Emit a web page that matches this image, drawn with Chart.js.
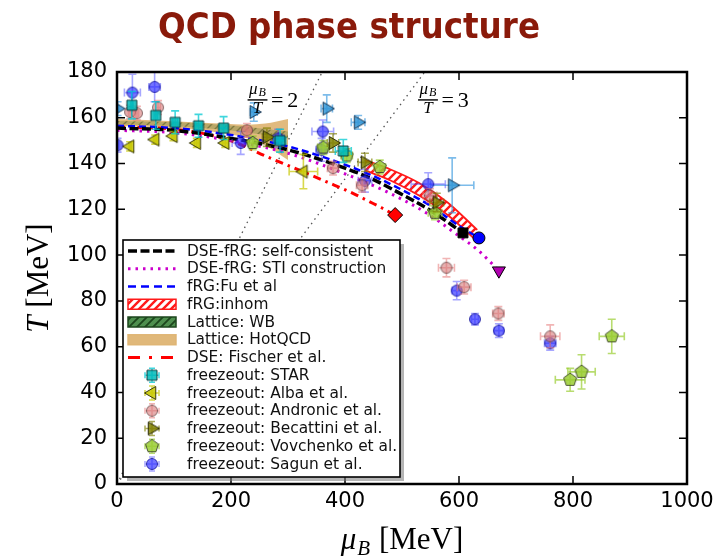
<!DOCTYPE html>
<html><head><meta charset="utf-8">
<script src="https://cdn.jsdelivr.net/npm/chart.js@4.4.1/dist/chart.umd.min.js"></script>
<style>html,body{margin:0;padding:0;background:#fff}canvas{display:block}</style>
</head><body>
<canvas id="c" width="720" height="560"></canvas>
<script>
// ---------------- data ----------------
// theory curves
const scMu  = [0, 100, 200, 300, 400, 450, 500, 550, 607];
const scT   = [155.5, 154.5, 151, 146, 138, 133, 126.5, 119.5, 109.7];
const stiMu = [0, 100, 200, 300, 400, 473, 543, 593, 634, 670];
const stiT  = [154.5, 153.5, 150, 144.5, 135.5, 127.7, 118.4, 109.6, 102, 93.2];
const fuMu  = [0, 100, 200, 300, 400, 450, 500, 550, 600, 635];
const fuT   = [156.5, 155.5, 152.5, 147.5, 139.5, 134.5, 128.5, 121.5, 112.8, 107.5];
const fiMu  = [0, 100, 163, 210, 263, 321, 368, 414, 441, 465, 487];
const fiT   = [156, 155, 152.5, 149, 143, 137, 132, 127, 123.6, 120.6, 117.5];
// end points
const endScMu = [607], endScT = [109.7];
const endFuMu = [635], endFuT = [107.5];
const endStiMu = [670], endStiT = [93.2];
const endFiMu = [488], endFiT = [117.5];
// bands
const inhomMu    = [435, 480, 530, 580, 632];
const inhomUpper = [141.5, 137.4, 131.5, 123, 111];
const inhomLower = [137, 132.6, 126, 117.5, 106];
const hotMu    = [0, 100, 180, 230, 260, 300];
const hotUpper = [159.5, 158.5, 157.5, 157, 157.5, 159.5];
const hotLower = [156.5, 155.5, 153.5, 151, 148, 141.5];
const wbMu    = [0, 100, 200, 300];
const wbUpper = [158.6, 158, 156.6, 154];
const wbLower = [157.2, 156.4, 154.4, 151];
// mu_B / T = const lines
const ratio2Mu = [0, 360], ratio2T = [0, 180];
const ratio3Mu = [0, 540], ratio3T = [0, 180];
// freeze-out data
const starMu = [26, 68, 102, 143, 187, 286, 397];
const starT  = [165.5, 161, 158, 156.5, 155.5, 150, 145.5];
const starMuErr = [2, 3, 4, 5, 8, 10, 14];
const starTErr  = [6, 6, 5, 5, 5, 5, 5];
const albaMu = [23, 67, 99, 140, 190, 327];
const albaT  = [147.5, 150.5, 152, 149, 149, 136.5];
const albaMuErr = [2, 3, 3, 4, 5, 25];
const albaTErr  = [2, 2, 2, 2, 2, 7.5];
const andMu = [23, 35, 72, 228, 379, 430, 549, 578, 609, 669, 760];
const andT  = [162.5, 162, 164.5, 154.5, 138, 130.5, 126, 94.5, 86, 74.5, 64.5];
const andMuErr = [3, 3, 4, 8, 10, 10, 12, 14, 12, 10, 17];
const andTErr  = [3, 3, 3, 3, 3, 3, 3, 4, 3, 3, 5];
const becMu = [263, 379, 435, 561];
const becT  = [151.5, 149, 140.5, 123];
const becMuErr = [8, 10, 12, 12];
const becTErr  = [4, 4, 4, 4];
const vovMu = [238, 362, 403, 461, 558, 795, 815, 868];
const vovT  = [149, 147, 143.5, 138.5, 118.5, 45.5, 49, 64.5];
const vovMuErr = [8, 10, 10, 10, 12, 26, 24, 22];
const vovTErr  = [3, 3, 3, 3, 3, 5, 7.5, 7.5];
const sagMu = [1, 27, 66, 217, 283, 359, 361, 435, 546, 596, 628, 670, 760];
const sagT  = [148, 171, 173.5, 149, 151, 146, 154, 132.5, 131, 84.5, 72, 67, 61.5];
const sagMuErr = [2, 14, 10, 15, 10, 10, 19, 12, 30, 8, 6, 8, 10];
const sagTErr  = [3, 8, 6.5, 5, 4, 5, 5, 5, 5, 4, 2.5, 3, 3];
const becBMu = [1, 240, 368, 423, 588];
const becBT  = [164, 162.5, 164, 158, 130.5];
const becBMuErr = [2, 6, 10, 12, 38];
const becBTErr  = [3, 4, 6, 3, 12];

const xTicks = [0, 200, 400, 600, 800, 1000];
const yTicks = [0, 20, 40, 60, 80, 100, 120, 140, 160, 180];
const legendLabels = ['DSE-fRG: self-consistent', 'DSE-fRG: STI construction', 'fRG:Fu et al',
  'fRG:inhom', 'Lattice: WB', 'Lattice: HotQCD', 'DSE: Fischer et al.',
  'freezeout: STAR', 'freezeout: Alba et al.', 'freezeout: Andronic et al.',
  'freezeout: Becattini et al.', 'freezeout: Vovchenko et al.', 'freezeout: Sagun et al.'];

// ---------------- helpers ----------------
const canvas = document.getElementById('c');
const ctx0 = canvas.getContext('2d');
const pts = (xs, ys) => xs.map((v, i) => ({x: v, y: ys[i]}));

function hatch(bg, line, lw) {
  const c = document.createElement('canvas'); c.width = 8; c.height = 8;
  const g = c.getContext('2d');
  if (bg) { g.fillStyle = bg; g.fillRect(0, 0, 8, 8); }
  g.strokeStyle = line; g.lineWidth = lw; g.beginPath();
  g.moveTo(0, 8); g.lineTo(8, 0); g.moveTo(-4, 4); g.lineTo(4, -4); g.moveTo(4, 12); g.lineTo(12, 4);
  g.stroke();
  return ctx0.createPattern(c, 'repeat');
}
const redHatch = hatch('#ffffff', '#ff1a1a', 2.4);
const greenHatch = hatch('rgba(90,120,50,0.3)', 'rgba(60,70,20,0.45)', 1.4);
const greenHatchLegend = hatch('#4f8f4f', '#1d461d', 1.8);

function mk(kind, fill, stroke) {
  const s = 18, m = s / 2;
  const c = document.createElement('canvas'); c.width = s; c.height = s;
  const g = c.getContext('2d');
  g.beginPath();
  if (kind === 'square') g.rect(m - 5, m - 5, 10, 10);
  else if (kind === 'circle') g.arc(m, m, 5.5, 0, Math.PI * 2);
  else if (kind === 'triLeft' || kind === 'triRight') {
    const r = 7.5, d = kind === 'triLeft' ? -1 : 1;
    g.moveTo(m + d * r, m); g.lineTo(m - d * r * 0.5, m - r * 0.866); g.lineTo(m - d * r * 0.5, m + r * 0.866); g.closePath();
  } else if (kind === 'pentagon') {
    const r = 6.8;
    for (let k = 0; k < 5; k++) {
      const a = (-90 + 72 * k) * Math.PI / 180;
      const px = m + r * Math.cos(a), py = m + r * Math.sin(a);
      k ? g.lineTo(px, py) : g.moveTo(px, py);
    }
    g.closePath();
  }
  g.fillStyle = fill; g.fill();
  g.lineWidth = 1; g.strokeStyle = stroke; g.stroke();
  return c;
}

const mStar = mk('square', 'rgba(0,185,185,0.85)', 'rgba(10,50,50,0.9)');
const mAlba = mk('triLeft', 'rgba(200,200,0,0.85)', 'rgba(40,40,0,0.9)');
const mAnd  = mk('circle', 'rgba(215,120,120,0.6)', 'rgba(90,60,60,0.7)');
const mBec  = mk('triRight', 'rgba(128,128,0,0.85)', 'rgba(30,30,0,0.9)');
const mVov  = mk('pentagon', 'rgba(154,205,50,0.85)', 'rgba(60,70,40,0.9)');
const mSag  = mk('circle', 'rgba(40,40,255,0.65)', 'rgba(0,0,140,0.7)');
const mBecB = mk('triRight', 'rgba(50,150,215,0.85)', 'rgba(10,40,70,0.9)');

const eStar = 'rgba(0,200,210,0.75)', eAlba = 'rgba(200,200,0,0.7)', eAnd = 'rgba(230,120,120,0.55)',
      eBec = 'rgba(128,128,0,0.65)', eVov = 'rgba(154,205,50,0.7)', eSag = 'rgba(60,60,255,0.45)',
      eBecB = 'rgba(70,160,225,0.7)';

// ---------------- datasets ----------------
const datasets = [];
function add(ds) { datasets.push(Object.assign({showLine: false, pointRadius: 0, fill: false}, ds)); return datasets.length - 1; }
const lineDs = (xs, ys, color, dash, width, order) => ({data: pts(xs, ys), showLine: true, borderColor: color,
  borderDash: dash, borderWidth: width, pointRadius: 0, cubicInterpolationMode: 'monotone', order});

add(Object.assign(lineDs(ratio2Mu, ratio2T, '#555', [1.5, 4], 1.3, 100), {cubicInterpolationMode: 'default'}));
add(Object.assign(lineDs(ratio3Mu, ratio3T, '#555', [1.5, 4], 1.3, 100), {cubicInterpolationMode: 'default'}));

const hotUp = add({data: pts(hotMu, hotUpper), showLine: true, borderWidth: 0, order: 96, cubicInterpolationMode: 'monotone'});
add({data: pts(hotMu, hotLower), showLine: true, borderWidth: 0, order: 96, fill: hotUp, cubicInterpolationMode: 'monotone', backgroundColor: 'rgba(222,180,115,0.92)'});
const wbUp = add({data: pts(wbMu, wbUpper), showLine: true, borderWidth: 0, order: 94, cubicInterpolationMode: 'monotone'});
add({data: pts(wbMu, wbLower), showLine: true, borderWidth: 0, order: 94, fill: wbUp, cubicInterpolationMode: 'monotone', backgroundColor: greenHatch});

const inUp = add({data: pts(inhomMu, inhomUpper), showLine: true, borderColor: '#ff1a1a', borderWidth: 1.8, order: 90, cubicInterpolationMode: 'monotone'});
add({data: pts(inhomMu, inhomLower), showLine: true, borderColor: '#ff1a1a', borderWidth: 1.8, order: 90, fill: inUp, cubicInterpolationMode: 'monotone', backgroundColor: redHatch});

add(lineDs(fiMu, fiT, '#ff0000', [8, 5, 2.5, 5], 3, 60));
add(lineDs(stiMu, stiT, '#cc00cc', [2.5, 5], 3, 58));
add(lineDs(fuMu, fuT, '#0000ff', [7, 4], 2.5, 57));
add(lineDs(scMu, scT, '#000000', [9, 3.5], 3.5, 56));

const ptDs = (xs, ys, xe, ye, marker, ecol, order) => ({data: pts(xs, ys), pointStyle: marker, pointRadius: 6,
  xErr: xe, yErr: ye, errColor: ecol, order});
add(ptDs(becBMu, becBT, becBMuErr, becBTErr, mBecB, eBecB, 30));
add(ptDs(sagMu, sagT, sagMuErr, sagTErr, mSag, eSag, 29));
add(ptDs(andMu, andT, andMuErr, andTErr, mAnd, eAnd, 28));
add(ptDs(vovMu, vovT, vovMuErr, vovTErr, mVov, eVov, 27));
add(ptDs(becMu, becT, becMuErr, becTErr, mBec, eBec, 26));
add(ptDs(albaMu, albaT, albaMuErr, albaTErr, mAlba, eAlba, 25));
add(ptDs(starMu, starT, starMuErr, starTErr, mStar, eStar, 24));

add({data: pts(endFiMu, endFiT), pointStyle: 'rectRot', pointRadius: 7.5, backgroundColor: '#ff0000', borderColor: '#000', borderWidth: 1, order: 10});
add({data: pts(endScMu, endScT), pointStyle: 'rect', pointRadius: 7, backgroundColor: '#000', borderColor: '#000', borderWidth: 1, order: 10});
add({data: pts(endFuMu, endFuT), pointStyle: 'circle', pointRadius: 6, backgroundColor: '#0000ff', borderColor: '#000', borderWidth: 1, order: 10});
add({data: pts(endStiMu, endStiT), pointStyle: 'triangle', pointRotation: 180, pointRadius: 7.5, backgroundColor: '#b000b0', borderColor: '#000', borderWidth: 1, order: 10});

// ---------------- plugins ----------------
const errorBars = {
  id: 'errorBars',
  beforeDatasetDraw(chart, args) {
    const ds = chart.data.datasets[args.index];
    if (!ds.xErr) return;
    const {ctx, chartArea: a, scales: {x, y}} = chart;
    ctx.save();
    ctx.beginPath(); ctx.rect(a.left, a.top, a.right - a.left, a.bottom - a.top); ctx.clip();
    ctx.strokeStyle = ds.errColor; ctx.lineWidth = 1.6;
    ds.data.forEach((p, i) => {
      const px = x.getPixelForValue(p.x), py = y.getPixelForValue(p.y);
      const x0 = x.getPixelForValue(p.x - ds.xErr[i]), x1 = x.getPixelForValue(p.x + ds.xErr[i]);
      const y0 = y.getPixelForValue(p.y - ds.yErr[i]), y1 = y.getPixelForValue(p.y + ds.yErr[i]);
      const c = 4;
      ctx.beginPath();
      ctx.moveTo(x0, py); ctx.lineTo(x1, py);
      ctx.moveTo(px, y0); ctx.lineTo(px, y1);
      ctx.moveTo(x0, py - c); ctx.lineTo(x0, py + c);
      ctx.moveTo(x1, py - c); ctx.lineTo(x1, py + c);
      ctx.moveTo(px - c, y0); ctx.lineTo(px + c, y0);
      ctx.moveTo(px - c, y1); ctx.lineTo(px + c, y1);
      ctx.stroke();
    });
    ctx.restore();
  }
};

function fracLabel(ctx, cx, cy, rhs) {
  ctx.save();
  ctx.fillStyle = '#000'; ctx.textAlign = 'left'; ctx.textBaseline = 'alphabetic';
  ctx.font = 'italic 17px "Liberation Serif"'; const wMu = ctx.measureText('μ').width;
  ctx.font = 'italic 12px "Liberation Serif"'; const wB = ctx.measureText('B').width;
  const nw = wMu + wB + 1, x = cx - nw / 2;
  ctx.font = 'italic 17px "Liberation Serif"'; ctx.fillText('μ', x, cy - 6);
  ctx.font = 'italic 12px "Liberation Serif"'; ctx.fillText('B', x + wMu + 1, cy - 4);
  ctx.fillRect(cx - nw / 2 - 1.5, cy - 0.7, nw + 3, 1.4);
  ctx.font = 'italic 17px "Liberation Serif"'; const wT = ctx.measureText('T').width;
  ctx.fillText('T', cx - wT / 2, cy + 13);
  ctx.font = '22px "Liberation Serif"';
  const xe = cx + nw / 2 + 5;
  ctx.fillText('=', xe, cy + 7);
  ctx.fillText(rhs, xe + ctx.measureText('=').width + 4, cy + 7);
  ctx.restore();
}

const decor = {
  id: 'decor',
  afterDatasetsDraw(chart) {
    const {ctx, chartArea: a, scales: {x, y}} = chart;
    ctx.save();
    // inward ticks on all four sides
    ctx.strokeStyle = '#000'; ctx.lineWidth = 1.5; ctx.beginPath();
    x.ticks.forEach(t => { const px = x.getPixelForValue(t.value);
      ctx.moveTo(px, a.bottom); ctx.lineTo(px, a.bottom - 8); ctx.moveTo(px, a.top); ctx.lineTo(px, a.top + 8); });
    y.ticks.forEach(t => { const py = y.getPixelForValue(t.value);
      ctx.moveTo(a.left, py); ctx.lineTo(a.left + 8, py); ctx.moveTo(a.right, py); ctx.lineTo(a.right - 8, py); });
    ctx.stroke();
    // frame
    ctx.lineWidth = 2.5; ctx.strokeRect(a.left, a.top, a.right - a.left, a.bottom - a.top);
    ctx.restore();
    fracLabel(ctx, x.getPixelForValue(246.5), y.getPixelForValue(167.8), '2');
    fracLabel(ctx, x.getPixelForValue(545.6), y.getPixelForValue(167.8), '3');
  },
  afterDraw(chart) {
    const {ctx, chartArea: a} = chart;
    ctx.save();
    // title
    ctx.font = 'bold 36px "DejaVu Sans"'; ctx.fillStyle = '#8a1a0a'; ctx.textBaseline = 'alphabetic'; ctx.textAlign = 'left';
    const tt = 'QCD phase structure', tw = ctx.measureText(tt).width;
    ctx.save(); ctx.translate(158, 38); ctx.scale(382 / tw, 1); ctx.fillText(tt, 0, 0); ctx.restore();
    // axis labels
    ctx.fillStyle = '#000';
    const big = '31px "Liberation Serif"', bigI = 'italic 31px "Liberation Serif"', subI = 'italic 21px "Liberation Serif"';
    ctx.font = bigI; const wMu = ctx.measureText('μ').width;
    ctx.font = subI; const wB = ctx.measureText('B').width;
    ctx.font = big; const wR = ctx.measureText(' [MeV]').width;
    let sx = (a.left + a.right) / 2 - (wMu + wB + 2 + wR) / 2;
    ctx.font = bigI; ctx.fillText('μ', sx, 549);
    ctx.font = subI; ctx.fillText('B', sx + wMu + 1, 555);
    ctx.font = big; ctx.fillText(' [MeV]', sx + wMu + wB + 2, 549);
    ctx.save(); ctx.translate(48, (a.top + a.bottom) / 2); ctx.rotate(-Math.PI / 2);
    ctx.font = bigI; const wT = ctx.measureText('T').width;
    ctx.font = big; const wR2 = ctx.measureText(' [MeV]').width;
    const sy = -(wT + wR2) / 2;
    ctx.font = bigI; ctx.fillText('T', sy, 0);
    ctx.font = big; ctx.fillText(' [MeV]', sy + wT, 0);
    ctx.restore();
    // legend
    const L = 123, T = 240, R = 400, B = 477;
    ctx.fillStyle = 'rgba(120,120,120,0.55)'; ctx.fillRect(L + 4, T + 4, R - L, B - T);
    ctx.fillStyle = '#fff'; ctx.fillRect(L, T, R - L, B - T);
    ctx.strokeStyle = '#000'; ctx.lineWidth = 1.6; ctx.strokeRect(L, T, R - L, B - T);
    const handles = [
      {t: 'line', c: '#000', d: [9, 3.5], w: 3.5},
      {t: 'line', c: '#cc00cc', d: [2.5, 5], w: 3},
      {t: 'line', c: '#0000ff', d: [8, 5], w: 2.5},
      {t: 'patch', f: redHatch, s: '#ff1a1a'},
      {t: 'patch', f: greenHatchLegend, s: '#1d461d'},
      {t: 'patch', f: 'rgba(222,180,115,0.95)', s: 'rgba(222,180,115,0.95)'},
      {t: 'line', c: '#ff0000', d: [12, 9, 3, 9], w: 3},
      {t: 'mk', m: mStar, e: eStar}, {t: 'mk', m: mAlba, e: eAlba}, {t: 'mk', m: mAnd, e: eAnd},
      {t: 'mk', m: mBec, e: eBec}, {t: 'mk', m: mVov, e: eVov}, {t: 'mk', m: mSag, e: eSag}
    ];
    handles.forEach((h, i) => {
      const yy = 251 + i * 17.75;
      ctx.save();
      if (h.t === 'line') {
        ctx.strokeStyle = h.c; ctx.lineWidth = h.w; ctx.setLineDash(h.d);
        ctx.beginPath(); ctx.moveTo(128, yy); ctx.lineTo(176, yy); ctx.stroke();
      } else if (h.t === 'patch') {
        ctx.fillStyle = h.f; ctx.fillRect(128, yy - 5, 48, 10);
        ctx.strokeStyle = h.s; ctx.lineWidth = 1.5; ctx.strokeRect(128, yy - 5, 48, 10);
      } else {
        const cx = 152;
        ctx.strokeStyle = h.e; ctx.lineWidth = 1.5; ctx.beginPath();
        ctx.moveTo(cx - 7, yy); ctx.lineTo(cx + 7, yy); ctx.moveTo(cx, yy - 7); ctx.lineTo(cx, yy + 7);
        ctx.moveTo(cx - 7, yy - 3); ctx.lineTo(cx - 7, yy + 3); ctx.moveTo(cx + 7, yy - 3); ctx.lineTo(cx + 7, yy + 3);
        ctx.moveTo(cx - 3, yy - 7); ctx.lineTo(cx + 3, yy - 7); ctx.moveTo(cx - 3, yy + 7); ctx.lineTo(cx + 3, yy + 7);
        ctx.stroke();
        ctx.drawImage(h.m, cx - h.m.width / 2, yy - h.m.height / 2);
      }
      ctx.restore();
      ctx.fillStyle = '#111'; ctx.font = '15.4px "DejaVu Sans"'; ctx.textBaseline = 'middle'; ctx.textAlign = 'left';
      ctx.fillText(legendLabels[i], 187, yy + 0.5);
    });
    ctx.restore();
  }
};

Chart.defaults.font.family = '"DejaVu Sans"';
new Chart(canvas, {
  type: 'scatter',
  data: {datasets},
  options: {
    responsive: false, animation: false, devicePixelRatio: 1,
    layout: {padding: {top: 72, right: 33, left: 0, bottom: 0}},
    plugins: {legend: {display: false}, tooltip: {enabled: false}, title: {display: false}},
    scales: {
      x: {type: 'linear', min: xTicks[0], max: xTicks[xTicks.length - 1],
        afterBuildTicks: s => { s.ticks = xTicks.map(v => ({value: v})); },
        afterFit: s => { s.height = 76; },
        grid: {display: false, drawTicks: false}, border: {display: false},
        ticks: {color: '#000', font: {size: 21}, padding: 5, maxRotation: 0, autoSkip: false,
          callback: v => String(v)}},
      y: {type: 'linear', min: yTicks[0], max: yTicks[yTicks.length - 1],
        afterBuildTicks: s => { s.ticks = yTicks.map(v => ({value: v})); },
        afterFit: s => { s.width = 117; },
        grid: {display: false, drawTicks: false}, border: {display: false},
        ticks: {color: '#000', font: {size: 21}, padding: 10, autoSkip: false,
          callback: v => String(v)}}
    }
  },
  plugins: [errorBars, decor]
});
</script></body></html>
